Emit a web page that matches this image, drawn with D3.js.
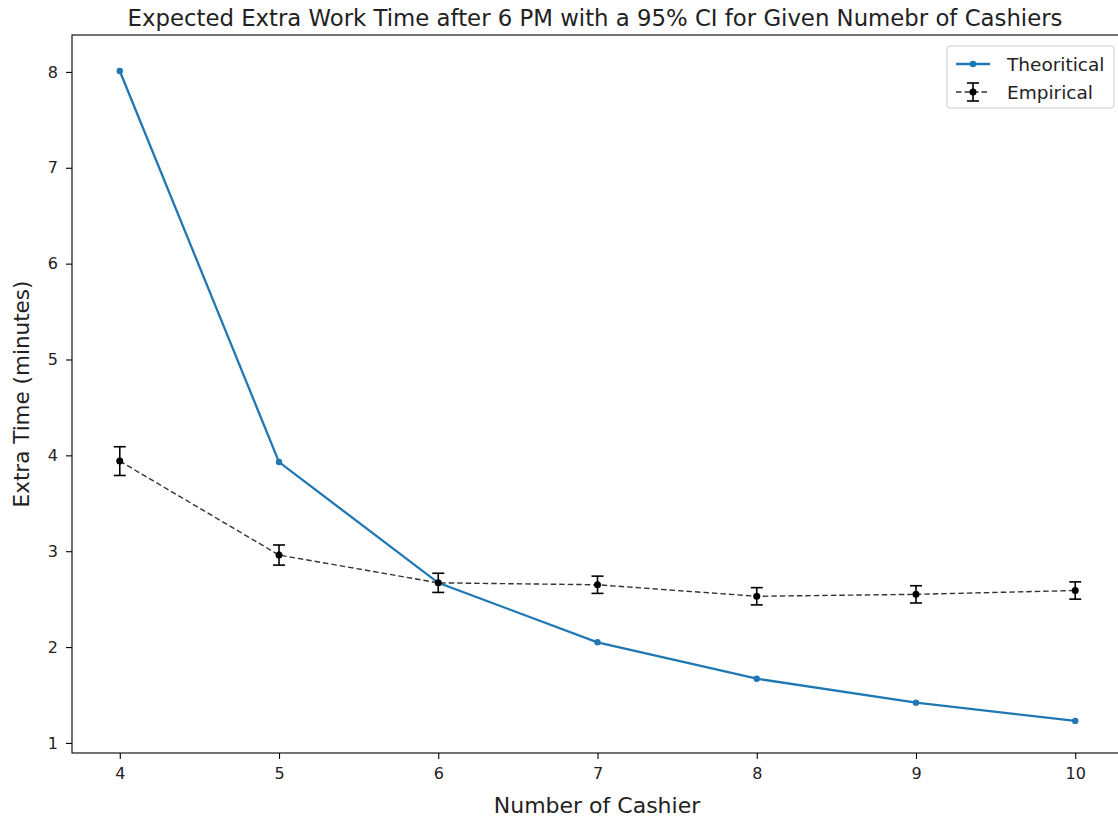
<!DOCTYPE html>
<html lang="en">
<head>
    <meta charset="UTF-8">
    <title>Expected Extra Work Time</title>
    <script src="https://d3js.org/d3.v7.min.js"></script>
    <style>
        body { margin: 0; background: #fff; font-family: "DejaVu Sans", sans-serif; }
        svg { display: block; }
    </style>
</head>
<body>
    <svg id="chart" width="1118" height="817"></svg>

    <script>
        // data
        const cashiers = [4, 5, 6, 7, 8, 9, 10];
        const theoretical = [8.01, 3.93, 2.67, 2.05, 1.67, 1.42, 1.23];
        const empirical = [3.94, 2.96, 2.67, 2.65, 2.53, 2.55, 2.59];
        const ciHalf = [0.15, 0.105, 0.1, 0.09, 0.09, 0.09, 0.09];
        const xTicks = [4, 5, 6, 7, 8, 9, 10];
        const yTicks = [1, 2, 3, 4, 5, 6, 7, 8];

        const svg = d3.select("#chart");
        const mLeft = 72, mRight = 1123, mTop = 35, mBottom = 753;

        const x = d3.scaleLinear().domain([3.7, 10.3]).range([mLeft, mRight]);
        const y = d3.scaleLinear().domain([0.895, 8.385]).range([mBottom, mTop]);

        // axes
        const xAxis = svg.append("g")
            .attr("transform", `translate(0,${mBottom})`)
            .call(d3.axisBottom(x).tickValues(xTicks).tickFormat(d3.format("d")).tickSize(6).tickPadding(9));
        const yAxis = svg.append("g")
            .attr("transform", `translate(${mLeft},0)`)
            .call(d3.axisLeft(y).tickValues(yTicks).tickFormat(d3.format("d")).tickSize(6).tickPadding(8));
        [xAxis, yAxis].forEach(g => {
            g.select(".domain").remove();
            g.selectAll("line").attr("stroke", "#000").attr("stroke-width", 1.1);
            g.selectAll("text").attr("fill", "#222").style("font-size", "16px").style("font-family", "DejaVu Sans");
        });

        // frame
        svg.append("rect")
            .attr("x", mLeft).attr("y", mTop)
            .attr("width", mRight - mLeft).attr("height", mBottom - mTop)
            .attr("fill", "none").attr("stroke", "#000").attr("stroke-width", 1.1);

        const pts = cashiers.map((c, i) => ({ c, t: theoretical[i], e: empirical[i], h: ciHalf[i] }));

        // theoretical line
        svg.append("path")
            .datum(pts)
            .attr("fill", "none")
            .attr("stroke", "#1f77b4")
            .attr("stroke-width", 2.3)
            .attr("d", d3.line().x(d => x(d.c)).y(d => y(d.t)));
        svg.selectAll(".tdot").data(pts).enter().append("circle")
            .attr("cx", d => x(d.c)).attr("cy", d => y(d.t))
            .attr("r", 3.2).attr("fill", "#1f77b4");

        // empirical line with error bars
        svg.append("path")
            .datum(pts)
            .attr("fill", "none")
            .attr("stroke", "#333")
            .attr("stroke-width", 1.4)
            .attr("stroke-dasharray", "5.5,3")
            .attr("d", d3.line().x(d => x(d.c)).y(d => y(d.e)));
        const eb = svg.selectAll(".eb").data(pts).enter().append("g")
            .attr("stroke", "#000").attr("stroke-width", 1.6);
        eb.append("line")
            .attr("x1", d => x(d.c)).attr("x2", d => x(d.c))
            .attr("y1", d => y(d.e - d.h)).attr("y2", d => y(d.e + d.h));
        eb.append("line")
            .attr("x1", d => x(d.c) - 6).attr("x2", d => x(d.c) + 6)
            .attr("y1", d => y(d.e - d.h)).attr("y2", d => y(d.e - d.h));
        eb.append("line")
            .attr("x1", d => x(d.c) - 6).attr("x2", d => x(d.c) + 6)
            .attr("y1", d => y(d.e + d.h)).attr("y2", d => y(d.e + d.h));
        svg.selectAll(".edot").data(pts).enter().append("circle")
            .attr("cx", d => x(d.c)).attr("cy", d => y(d.e))
            .attr("r", 3.5).attr("fill", "#000");

        // title and labels
        svg.append("text")
            .attr("x", 595).attr("y", 26)
            .attr("text-anchor", "middle")
            .style("font-size", "22.8px").attr("fill", "#222")
            .text("Expected Extra Work Time after 6 PM with a 95% CI for Given Numebr of Cashiers");
        svg.append("text")
            .attr("x", 597).attr("y", 813)
            .attr("text-anchor", "middle")
            .style("font-size", "22px").attr("fill", "#222")
            .text("Number of Cashier");
        svg.append("text")
            .attr("transform", `translate(29,${(mTop + mBottom) / 2}) rotate(-90)`)
            .attr("text-anchor", "middle")
            .style("font-size", "21.5px").attr("fill", "#222")
            .text("Extra Time (minutes)");

        // legend
        const lg = svg.append("g").attr("transform", "translate(947,46)");
        lg.append("rect")
            .attr("width", 167).attr("height", 62).attr("rx", 3)
            .attr("fill", "#fff").attr("fill-opacity", 0.8)
            .attr("stroke", "#ccc");
        const l1 = lg.append("g").attr("transform", "translate(0,18)");
        l1.append("line").attr("x1", 9).attr("x2", 43).attr("stroke", "#1f77b4").attr("stroke-width", 2.3);
        l1.append("circle").attr("cx", 26).attr("r", 3.2).attr("fill", "#1f77b4");
        l1.append("text").attr("x", 60).attr("y", 6.7).style("font-size", "18.5px").attr("fill", "#222").text("Theoritical");
        const l2 = lg.append("g").attr("transform", "translate(0,46)");
        l2.append("line").attr("x1", 9).attr("x2", 43).attr("stroke", "#333").attr("stroke-width", 1.4).attr("stroke-dasharray", "5.5,3");
        l2.append("line").attr("x1", 26).attr("x2", 26).attr("y1", -9).attr("y2", 9).attr("stroke", "#000").attr("stroke-width", 1.6);
        l2.append("line").attr("x1", 20).attr("x2", 32).attr("y1", -9).attr("y2", -9).attr("stroke", "#000").attr("stroke-width", 1.6);
        l2.append("line").attr("x1", 20).attr("x2", 32).attr("y1", 9).attr("y2", 9).attr("stroke", "#000").attr("stroke-width", 1.6);
        l2.append("circle").attr("cx", 26).attr("r", 3.5).attr("fill", "#000");
        l2.append("text").attr("x", 60).attr("y", 6.7).style("font-size", "18.5px").attr("fill", "#222").text("Empirical");
    </script>
</body>
</html>
